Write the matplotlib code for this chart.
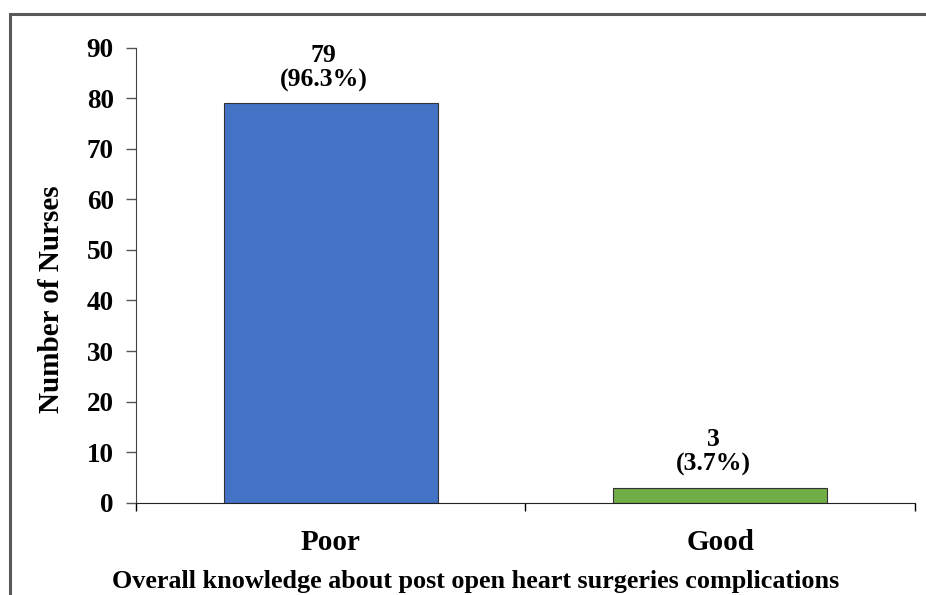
import numpy as np
import matplotlib.pyplot as plt
from matplotlib.patches import Rectangle

categories = ["Poor", "Good"]
counts = [79, 3]
percents = [96.3, 3.7]
colors = ["#4472C4", "#70AD47"]

plt.rcParams["font.family"] = "Liberation Serif"
plt.rcParams["font.weight"] = "bold"

fig = plt.figure(figsize=(9.26, 5.95), dpi=100)
ax = fig.add_axes([0.1469, 0.155, 0.8411, 0.765])

x = np.arange(len(categories))
ax.bar(x, counts, width=0.55, color=colors, edgecolor="#333333", linewidth=0.8)

# labels sit a little left of the bar centres in the original
for xi, c, p in zip(x, counts, percents):
    ax.annotate(f"{c}\n({p}%)", (xi, c), xytext=(-5, 8), textcoords="offset points",
                ha="center", va="bottom", fontsize=18.5, fontweight="bold", linespacing=1.1)

ax.set_xlim(-0.5, 1.5)
ax.set_ylim(0, 90)
ax.set_yticks(np.arange(0, 91, 10))
ax.set_xticks(x)
ax.set_xticklabels(categories, fontsize=21, fontweight="bold")
ax.set_xticks([-0.5, 0.5, 1.5], minor=True)
ax.tick_params(axis="x", which="major", length=0, pad=19)
ax.tick_params(axis="x", which="minor", length=6, width=1, direction="out")
ax.tick_params(axis="y", labelsize=19.5, length=7, width=1, pad=9, color="#555555")
for lab in ax.get_yticklabels():
    lab.set_fontweight("bold")

for s in ["top", "right"]:
    ax.spines[s].set_visible(False)
ax.spines["left"].set_color("#444444")
ax.spines["bottom"].set_color("#222222")

ax.set_ylabel("Number of Nurses", fontsize=21, fontweight="bold")
ax.yaxis.set_label_coords(-0.091, 0.4475)
ax.set_xlabel("Overall knowledge about post open heart surgeries complications",
              fontsize=18.8, fontweight="bold")
ax.xaxis.set_label_coords(0.4365, -0.148)

fig.patches.append(Rectangle((0.0108, -0.05), 1.05, 0.9757 + 0.05, transform=fig.transFigure,
                             fill=False, edgecolor="#595959", linewidth=2.2, clip_on=False))

fig.savefig("out.png", dpi=100)
